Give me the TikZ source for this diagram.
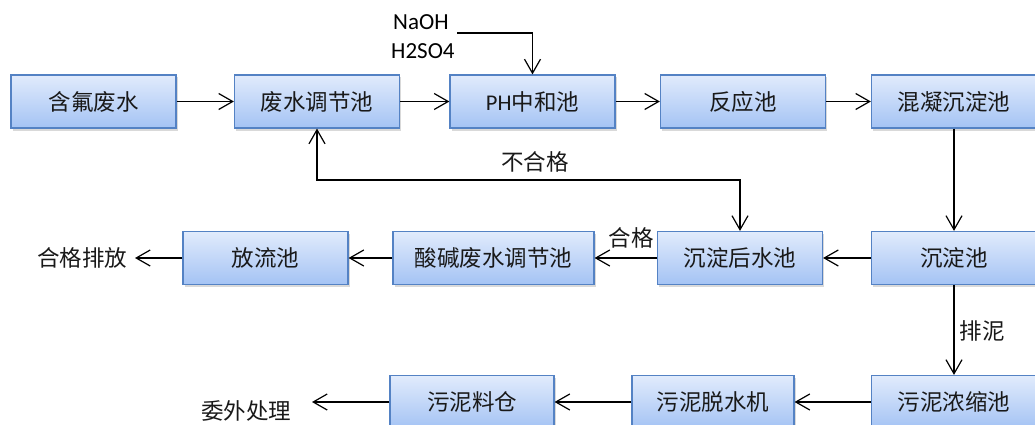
\documentclass[tikz,border=0pt]{standalone}
\usepackage{fontspec}
\setmainfont{Carlito}
\newfontfamily\cjk{Noto Sans CJK SC}
\usetikzlibrary{arrows.meta,shadows}
\definecolor{poolTop}{RGB}{225,235,252}
\definecolor{poolBot}{RGB}{164,195,244}
\definecolor{poolLine}{RGB}{84,130,196}
\tikzset{
  pool/.style={draw=poolLine, line width=1.2pt, top color=poolTop, bottom color=poolBot,
    minimum width=165pt, minimum height=53pt, inner sep=0pt,
    font=\fontsize{22.5}{26}\selectfont\cjk, text=black!90,
    drop shadow={shadow xshift=1.5pt, shadow yshift=-2.5pt, opacity=0.3}},
  word/.style={font=\fontsize{22.5}{26}\selectfont\cjk, text=black!90, inner sep=0pt},
  chem/.style={font=\fontsize{23}{26}\selectfont, inner sep=0pt, anchor=west},
  barb/.tip={Straight Barb[length=14pt,width=16pt]},
  flow/.style={line width=1.2pt, -barb}
}
\begin{document}
\begin{tikzpicture}[x=1pt,y=-1pt]
\useasboundingbox (0,0) rectangle (1035,425);

\node[pool] (fw) at (93.5,101.5) {含氟废水};
\node[pool] (tj) at (317,101.5) {废水调节池};
\node[pool] (ph) at (532.5,101.5) {{\rmfamily PH}中和池};
\node[pool] (fy) at (743,101.5) {反应池};
\node[pool] (hn) at (954,101.5) {混凝沉淀池};

\node[pool] (fl) at (265.5,258) {放流池};
\node[pool, minimum width=201pt] (sj) at (493.5,258) {酸碱废水调节池};
\node[pool] (ch) at (740,258) {沉淀后水池};
\node[pool] (cd) at (954,258) {沉淀池};

\node[pool] (nz) at (954,402) {污泥浓缩池};
\node[pool, minimum width=162pt] (ts) at (713,402) {污泥脱水机};
\node[pool, minimum width=164pt] (lc) at (472,402) {污泥料仓};

\node[chem] (naoh) at (393,22) {NaOH};
\node[chem] (h2so4) at (391,51) {H2SO4};
\coordinate (dose) at (457,33);

\node[word] (pf) at (82,258) {合格排放};
\node[word] (ww) at (246,411) {委外处理};
\coordinate (pfend) at (135,258);
\coordinate (wwend) at (312,402);
\coordinate (back) at (740,180);

\node[word] (bhg) at (535,162) {不合格};
\node[word] (hg) at (631,238) {合格};
\node[word] (pn) at (982,331) {排泥};

\draw[flow] (fw) -- (tj);
\draw[flow] (tj) -- (ph);
\draw[flow] (ph) -- (fy);
\draw[flow] (fy) -- (hn);
\draw[flow] (dose) -| (ph.north);
\draw[flow] (hn) -- (cd);
\draw[flow] (cd) -- (ch);
\draw[flow] (ch) -- (sj);
\draw[flow] (sj) -- (fl);
\draw[flow] (fl) -- (pfend);
\draw[line width=1.2pt, barb-barb] (tj.south) |- (back) -| (ch.north);
\draw[flow] (cd) -- (nz);
\draw[flow] (nz) -- (ts);
\draw[flow] (ts) -- (lc);
\draw[flow] (lc) -- (wwend);
\end{tikzpicture}
\end{document}
